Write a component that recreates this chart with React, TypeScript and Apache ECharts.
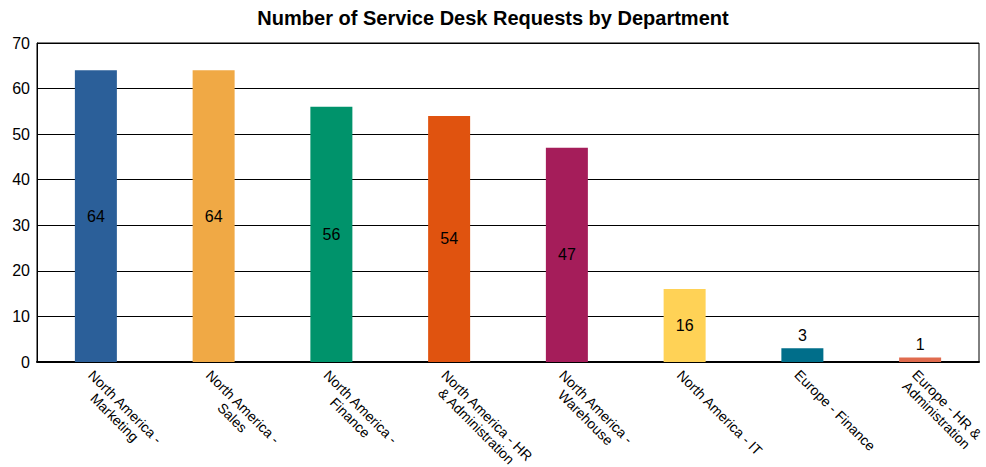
import React, { useEffect, useRef } from "react";
import * as echarts from "echarts";

const categories = [
  "North America -\nMarketing",
  "North America -\nSales",
  "North America -\nFinance",
  "North America - HR\n& Administration",
  "North America -\nWarehouse",
  "North America - IT",
  "Europe - Finance",
  "Europe - HR &\nAdministration",
];
const values = [64, 64, 56, 54, 47, 16, 3, 1];
const colors = ["#2B5F99", "#F0A945", "#00936B", "#E0530F", "#A51D5A", "#FFD256", "#006E8A", "#E06B4E"];
const title = "Number of Service Desk Requests by Department";

const FONT = "Liberation Sans, Arial, sans-serif";

export default function App() {
  const ref = useRef<HTMLDivElement>(null);
  useEffect(() => {
    const chart = echarts.init(ref.current!, null, { renderer: "svg" });
    chart.setOption({
      animation: false,
      textStyle: { fontFamily: FONT },
      title: {
        text: title,
        left: "center",
        top: 3,
        textStyle: { fontSize: 20, fontWeight: "bold", color: "#000", fontFamily: FONT },
      },
      grid: {
        left: 37,
        right: 7,
        top: 43,
        bottom: 105,
        containLabel: false,
        outerBoundsMode: "none",
        show: true,
        borderColor: "#000",
        borderWidth: 1,
      },
      xAxis: {
        type: "category",
        data: categories,
        axisLine: { lineStyle: { color: "#000", width: 2 } },
        axisTick: { show: false },
        axisLabel: {
          rotate: -45,
          color: "#000",
          fontSize: 14,
          interval: 0,
          margin: 5,
          align: "left",
          verticalAlign: "top",
          formatter: (v: string) => v.split("\n").map((s) => "{c|" + s + "}").join("\n"),
          rich: { c: { align: "center", fontSize: 14, lineHeight: 15, color: "#000", fontFamily: FONT } },
        },
      },
      yAxis: {
        type: "value",
        min: 0,
        max: 70,
        interval: 10,
        axisLine: { show: true, lineStyle: { color: "#000", width: 1 } },
        axisTick: { show: false },
        splitLine: { lineStyle: { color: "#000", width: 1 } },
        axisLabel: { color: "#000", fontSize: 16, margin: 7 },
      },
      series: [
        {
          type: "bar",
          barWidth: 42,
          data: values.map((v, i) => ({
            value: v,
            itemStyle: { color: colors[i] },
            label: { position: v < 10 ? "top" : "inside" },
          })),
          label: { show: true, color: "#000", fontSize: 16 },
        },
      ],
    });
    return () => chart.dispose();
  }, []);
  return <div ref={ref} style={{ position: "absolute", left: 0, top: 0, width: 986, height: 467 }} />;
}
